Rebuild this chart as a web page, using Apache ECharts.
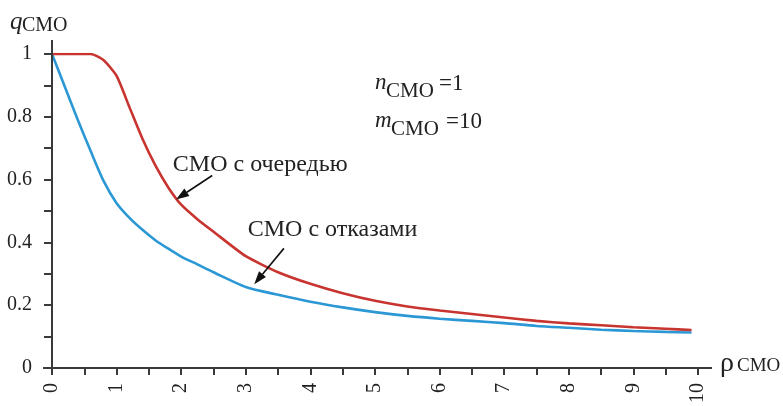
<!DOCTYPE html>
<html><head><meta charset="utf-8">
<script src="https://cdn.jsdelivr.net/npm/echarts@6/dist/echarts.min.js"></script>
<style>html,body{margin:0;padding:0;background:#fff}#c{width:783px;height:406px}</style>
</head><body><div id="c"></div>
<script>
// rho (load) values
const rho = [0, 0.2, 0.4, 0.6, 0.8, 1.0, 1.2, 1.4, 1.6, 1.8, 2.0, 2.25, 2.5, 3.0, 3.5, 4.0, 4.5, 5.0, 5.5, 6.0, 6.5, 7.0, 7.5, 8.0, 8.5, 9.0, 9.5, 9.9];
// СМО с очередью (red)
const qQueue = [1, 1, 1, 1, 0.98, 0.93, 0.83, 0.73, 0.645, 0.575, 0.52, 0.474, 0.434, 0.356, 0.305, 0.268, 0.238, 0.214, 0.196, 0.183, 0.172, 0.161, 0.15, 0.142, 0.136, 0.13, 0.125, 0.121];
// СМО с отказами (blue)
const qRefusal = [1, 0.895, 0.79, 0.69, 0.595, 0.525, 0.478, 0.44, 0.407, 0.38, 0.355, 0.33, 0.305, 0.258, 0.233, 0.211, 0.193, 0.178, 0.166, 0.157, 0.15, 0.143, 0.134, 0.128, 0.122, 0.118, 0.115, 0.113];
const xTickLabels = ['0','1','2','3','4','5','6','7','8','9','10'];
const yTickLabels = ['0','0.2','0.4','0.6','0.8','1'];
const nameQueue = 'СМО с очередью';
const nameRefusal = 'СМО с отказами';

const SERIF = '"Liberation Serif", "DejaVu Serif", serif';
const AX = '#3a3a3a';
const chart = echarts.init(document.getElementById('c'), null, {renderer: 'canvas'});

const option = {
  backgroundColor: '#fff',
  animation: false,
  grid: {left: 52, right: 85, top: 54, bottom: 37},
  xAxis: {
    type: 'value', min: 0, max: 10, interval: 0.5,
    axisLine: {show: false},
    axisTick: {show: true, length: 7, lineStyle: {color: AX, width: 2}},
    splitLine: {show: false},
    axisLabel: {
      rotate: 90, margin: 15, color: '#222', fontFamily: SERIF, fontSize: 20,
      formatter: v => { const k = Math.round(v * 2); return k % 2 ? '' : xTickLabels[k / 2]; }
    }
  },
  yAxis: {
    type: 'value', min: 0, max: 1, interval: 0.1,
    axisLine: {show: false},
    axisTick: {show: true, length: 8, lineStyle: {color: AX, width: 2}},
    splitLine: {show: false},
    axisLabel: {
      margin: 20, color: '#222', fontFamily: SERIF, fontSize: 20,
      formatter: v => { const k = Math.round(v * 10); return k % 2 ? '' : yTickLabels[k / 2]; }
    }
  },
  series: [
    {name: nameRefusal, type: 'line', showSymbol: false, smooth: 0.25, data: rho.map((r, i) => [r, qRefusal[i]]),
     lineStyle: {color: '#2b98d5', width: 2.6}, itemStyle: {color: '#2b98d5'}},
    {name: nameQueue, type: 'line', showSymbol: false, smooth: 0.2, data: rho.map((r, i) => [r, qQueue[i]]),
     lineStyle: {color: '#c8342f', width: 2.6}, itemStyle: {color: '#c8342f'}}
  ]
};
chart.setOption(option);

function px(x, y) { return chart.convertToPixel({gridIndex: 0}, [x, y]); }
function txt(text, x, y, font, align) {
  return {type: 'text', z: 10, style: {text: text, x: x, y: y, font: font, fill: '#222',
    align: align || 'left', verticalAlign: 'middle', textAlign: align || 'left', textVerticalAlign: 'middle'}};
}
function arrow(from, to) {
  const a = px(from[0], from[1]), b = px(to[0], to[1]);
  const dx = b[0] - a[0], dy = b[1] - a[1], L = Math.hypot(dx, dy);
  const ux = dx / L, uy = dy / L, hl = 13, hw = 4.5;
  const bx = b[0] - ux * hl, by = b[1] - uy * hl;
  return [
    {type: 'line', z: 10, shape: {x1: a[0], y1: a[1], x2: bx, y2: by}, style: {stroke: '#111', lineWidth: 1.6}},
    {type: 'polygon', z: 10, shape: {points: [[b[0], b[1]], [bx - uy * hw, by + ux * hw], [bx + uy * hw, by - ux * hw]]}, style: {fill: '#111'}}
  ];
}
const o = px(0, 0), xEnd = px(10, 0), yTop = px(0, 1);
const g = [
  {type: 'line', z: 5, shape: {x1: o[0] - 9, y1: o[1], x2: xEnd[0] + 14, y2: o[1]}, style: {stroke: AX, lineWidth: 2}},
  {type: 'line', z: 5, shape: {x1: o[0], y1: yTop[1] - 14, x2: o[0], y2: o[1] + 4}, style: {stroke: AX, lineWidth: 2}},
  // axis names
  txt('q', 10, 22, 'italic 25px ' + SERIF),
  txt('СМО', 22, 26, '20px ' + SERIF),
  txt('ρ', 720, 364, '28px ' + SERIF),
  txt('СМО', 737, 366, '19px ' + SERIF),
  // parameters
  txt('n', 375, 83, 'italic 23px ' + SERIF),
  txt('СМО', 386, 91, '21px ' + SERIF),
  txt('=1', 439, 84, '23px ' + SERIF),
  txt('m', 375, 121, 'italic 23px ' + SERIF),
  txt('СМО', 391, 129, '21px ' + SERIF),
  txt('=10', 446, 122, '23px ' + SERIF)
];
const t1 = px(1.87, 0.648), t2 = px(3.03, 0.441);
g.push(txt(nameQueue, t1[0], t1[1], '24px ' + SERIF));
g.push(txt(nameRefusal, t2[0], t2[1], '24px ' + SERIF));
arrow([2.48, 0.613], [1.92, 0.537]).forEach(e => g.push(e));
arrow([3.59, 0.381], [3.13, 0.267]).forEach(e => g.push(e));
chart.setOption({graphic: g});
</script>
</body></html>
